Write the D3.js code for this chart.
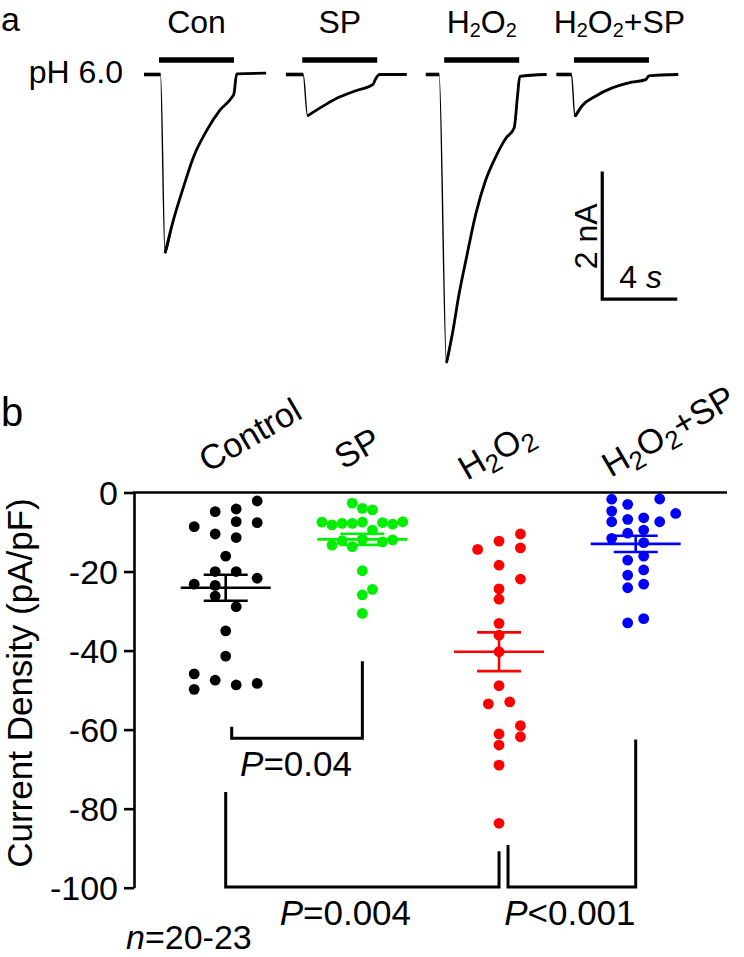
<!DOCTYPE html>
<html><head><meta charset="utf-8">
<script src="https://cdn.jsdelivr.net/npm/d3@7"></script>
<style>
body{margin:0;background:#fff}
svg{display:block}
text{font-family:"Liberation Sans",Arial,Helvetica,sans-serif;fill:#000}
</style></head>
<body><svg id="c" width="744" height="957"></svg>
<script>
// ---------------- DATA ----------------
// Panel a: example current traces (time s, current nA)
const traceLabels = ["Con", "SP", "H2O2", "H2O2+SP"];
const traceStart = [0, 7.57, 15.03, 22.0];        // s, position of each sweep in the montage
const appOnset = [0.8, 0.87, 0.98, 0.93];         // s, start of pH 6.0 application
const appDuration = 4;                             // s
const conTrace = [[0,0],[0.88,0],[1.12,-2.80],[1.56,-2.29],[2.10,-1.77],[2.63,-1.30],[3.34,-0.88],[4.05,-0.56],[4.68,-0.36],[4.80,-0.30],[4.94,0.01],[6.51,0.02]];
const spTrace = [[0,0],[0.92,0],[1.15,-0.65],[1.46,-0.59],[2.18,-0.46],[2.88,-0.35],[3.77,-0.25],[4.66,-0.15],[4.75,-0.09],[4.99,0],[6.44,0]];
const h2o2Trace = [[0,0],[0.71,0],[1.10,-4.52],[1.42,-4.06],[1.78,-3.43],[2.14,-2.91],[2.67,-2.18],[3.20,-1.65],[3.73,-1.29],[4.27,-1.00],[4.71,-0.84],[4.89,-0.34],[5.01,-0.03],[6.44,0]];
const h2o2spTrace = [[0,0],[0.80,0],[0.98,-0.66],[1.37,-0.49],[2.08,-0.34],[2.97,-0.21],[3.86,-0.13],[4.76,-0.08],[4.93,-0.02],[6.49,0]];
const scaleBarCurrent = 2;   // nA
const scaleBarTime = 4;      // s

// Panel b: current density (pA/pF)
const groups = ["Control", "SP", "H2O2", "H2O2+SP"];
const controlValues = [-2.15,-4.85,-4.18,-8.65,-7.38,-7.64,-10.5,-11.4,-16.1,-20.0,-20.0,-23.2,-23.5,-21.7,-26.2,-28.9,-35.0,-41.4,-45.9,-49.8,-47.5,-48.7,-48.3];
const controlSlots  = [3,-1,1,-3,1,3,-1,1,0,-1,1,-3,-1,3,-1,1,0,0,-3,-3,-1,1,3];
const spValues = [-2.7,-4.0,-4.4,-7.5,-8.2,-7.8,-7.8,-7.5,-9.5,-13.3,-12.2,-13.7,-11.85,-19.8,-24.5,-25.9,-30.6,-7.6,-8.0,-7.4,-12.5,-12.0];
const spSlots  = [-1,0,1,-4,-3,-2,-1,0,1,-3,-2,-1,0,0,1,0,0,2,3,4,2,3];
const h2o2Values = [-10.5,-12.3,-14.4,-14.0,-18.4,-21.9,-24.4,-27.0,-33.1,-36.1,-40.3,-48.9,-53.5,-53.0,-59.0,-61.8,-61.1,-63.9,-69.0,-83.7];
const h2o2Slots  = [2,0,-2,2,0,2,0,0,0,0,0,0,-1,1,2,2,0,0,0,0];
const h2o2spValues = [-1.7,-3.0,-1.65,-4.7,-5.3,-7.4,-6.8,-6.4,-7.4,-10.3,-9.5,-11.6,-12.7,-16.1,-17.1,-19.6,-20.9,-23.2,-24.1,-33.0,-31.9];
const h2o2spSlots  = [-3,-1,3,-3,5,-3,-1,1,3,-1,1,-3,1,1,-1,1,-1,1,-1,-1,1];
const groupMeans = [-24.1, -11.85, -40.3, -13.0];
const groupSEM = [3.3, 1.4, 4.9, 2.05];
const yTicks = [0, -20, -40, -60, -80, -100];
const comparisons = [["Control","SP"],["Control","H2O2"],["H2O2","H2O2+SP"]];
const compLeftTop = [-59.3, -75.8, -89.2];
const compRightTop = [-42.7, -90.8, -62.5];
const compBottom = [-62.2, -99.8, -99.8];
const compP = [["=","0.04"],["=","0.004"],["<","0.001"]];
const sampleSize = "20-23";

// ---------------- DRAW ----------------
const svg = d3.select("#c");
const black = "#000";

// panel letters
svg.append("text").attr("x", 1).attr("y", 31).attr("font-size", 34).text("a");
svg.append("text").attr("x", 1).attr("y", 426).attr("font-size", 40).text("b");

// ---- Panel a ----
const tScale = d3.scaleLinear().domain([0, 28]).range([144, 144 + 28 * 18.75]);
const iScale = d3.scaleLinear().domain([0, -5]).range([74.5, 74.5 + 5 * 63.8]);
const traces = [conTrace, spTrace, h2o2Trace, h2o2spTrace];
const line = d3.line().x(d => d[0]).y(d => d[1]).curve(d3.curveMonotoneX);

function writeChem(sel, str, subScale, shift) {
  // renders "2" following H or O as a subscript
  const parts = str.split(/(2)/).filter(p => p !== "");
  let shifted = 0;
  parts.forEach(p => {
    if (p === "2") {
      sel.append("tspan").attr("font-size", (subScale * 100) + "%").attr("dy", shift - shifted).text("2");
      shifted = shift;
    } else {
      const t = sel.append("tspan").text(p);
      if (shifted) t.attr("dy", -shifted);
      shifted = 0;
    }
  });
}

traces.forEach((tr, k) => {
  const pts = tr.map(([t, i]) => [tScale(traceStart[k] + t), iScale(i)]);
  let peak = 0;
  tr.forEach((p, j) => { if (p[1] < tr[peak][1]) peak = j; });
  const g = svg.append("g");
  g.append("path").attr("d", line(pts)).attr("fill", "none").attr("stroke", black).attr("stroke-width", 1.4);
  g.append("path").attr("d", line(pts.slice(0, peak))).attr("fill", "none").attr("stroke", black).attr("stroke-width", 3.6);
  g.append("path").attr("d", line(pts.slice(peak))).attr("fill", "none").attr("stroke", black).attr("stroke-width", 2.8);
  // application bar
  const x0 = tScale(traceStart[k] + appOnset[k]), x1 = tScale(traceStart[k] + appOnset[k] + appDuration);
  g.append("line").attr("x1", x0).attr("x2", x1).attr("y1", 60).attr("y2", 60)
    .attr("stroke", black).attr("stroke-width", 5.5);
  // label
  const lab = g.append("text").attr("x", (x0 + x1) / 2 + (k === 3 ? 8 : 0)).attr("y", 33)
    .attr("text-anchor", "middle").attr("font-size", 32);
  writeChem(lab, traceLabels[k], 0.62, 4);
});

svg.append("text").attr("x", 123).attr("y", 83).attr("text-anchor", "end").attr("font-size", 32).text("pH 6.0");

// scale bar
const sbT = 24.44, sbI = -3.52;
svg.append("path")
  .attr("d", `M${tScale(sbT)},${iScale(sbI + scaleBarCurrent)} V${iScale(sbI)} H${tScale(sbT + scaleBarTime)}`)
  .attr("fill", "none").attr("stroke", black).attr("stroke-width", 3.2);
svg.append("text").attr("transform", `translate(${tScale(sbT) - 5},${(iScale(sbI) + iScale(sbI + scaleBarCurrent)) / 2 + 1}) rotate(-90)`)
  .attr("text-anchor", "middle").attr("font-size", 32).text("2 nA");
const sbl = svg.append("text").attr("x", tScale(sbT) + 17).attr("y", iScale(sbI) - 11).attr("font-size", 32);
sbl.append("tspan").text("4 ");
sbl.append("tspan").attr("font-style", "italic").text("s");

// ---- Panel b ----
const xB = d3.scalePoint().domain(groups).range([225.7, 635.7]);
const yB = d3.scaleLinear().domain([0, -100]).range([492.5, 887.7]);
const colors = ["#000000", "#00ee00", "#ff0000", "#0000ff"];
const allValues = [controlValues, spValues, h2o2Values, h2o2spValues];
const allSlots = [controlSlots, spSlots, h2o2Slots, h2o2spSlots];
const slotStep = [10.5, 10.1, 10.7, 8];

// y axis
const yAxis = d3.axisLeft(yB).tickValues(yTicks).tickSize(10).tickSizeOuter(0).tickPadding(6).tickFormat(d => String(d));
const ya = svg.append("g").attr("transform", "translate(134,0)").call(yAxis);
ya.select(".domain").attr("stroke", black).attr("stroke-width", 2.6);
ya.selectAll(".tick line").attr("stroke", black).attr("stroke-width", 2.6);
ya.selectAll(".tick text").attr("font-size", 34).attr("font-family", "Liberation Sans, Arial, sans-serif").attr("fill", black).attr("dy", "0.36em");
svg.append("line").attr("x1", 133).attr("x2", 727).attr("y1", yB(0)).attr("y2", yB(0)).attr("stroke", black).attr("stroke-width", 2.6);

svg.append("text").attr("transform", `translate(32,683) rotate(-90)`)
  .attr("text-anchor", "middle").attr("font-size", 35).text("Current Density (pA/pF)");

// category labels
const labDx = [-18, -19, -32, -25];
const labY = [473, 470, 481, 478];
groups.forEach((gname, k) => {
  const t = svg.append("text").attr("transform", `translate(${xB(gname) + labDx[k]},${labY[k]}) rotate(-30)`)
    .attr("font-size", 34.5);
  writeChem(t, gname, 0.75, 7);
});

// points
groups.forEach((gname, k) => {
  const off = d3.scaleLinear().domain([0, 1]).range([0, slotStep[k]]);
  svg.append("g").selectAll("circle").data(allValues[k]).join("circle")
    .attr("cx", (d, i) => xB(gname) + off(allSlots[k][i]))
    .attr("cy", d => yB(d)).attr("r", 5.4).attr("fill", colors[k]);
  const xc = xB(gname), m = groupMeans[k], s = groupSEM[k];
  const eg = svg.append("g").attr("stroke", colors[k]).attr("stroke-width", 2.6);
  eg.append("line").attr("x1", xc - 45).attr("x2", xc + 45).attr("y1", yB(m)).attr("y2", yB(m));
  eg.append("line").attr("x1", xc).attr("x2", xc).attr("y1", yB(m + s)).attr("y2", yB(m - s));
  eg.append("line").attr("x1", xc - 22).attr("x2", xc + 22).attr("y1", yB(m + s)).attr("y2", yB(m + s));
  eg.append("line").attr("x1", xc - 22).attr("x2", xc + 22).attr("y1", yB(m - s)).attr("y2", yB(m - s));
});

// significance brackets
const legDx = [6, 0, 9];
const pDx = [-1, -17, -2];
comparisons.forEach(([a, b], k) => {
  const xl = xB(a) + legDx[k], xr = xB(b);
  svg.append("path")
    .attr("d", `M${xl},${yB(compLeftTop[k])} V${yB(compBottom[k])} H${xr} V${yB(compRightTop[k])}`)
    .attr("fill", "none").attr("stroke", black).attr("stroke-width", 3).attr("stroke-linejoin", "miter");
  const t = svg.append("text").attr("x", (xl + xr) / 2 + pDx[k]).attr("y", yB(compBottom[k]) + 38)
    .attr("text-anchor", "middle").attr("font-size", 35);
  t.append("tspan").attr("font-style", "italic").text("P");
  t.append("tspan").text(compP[k][0] + compP[k][1]);
});

const nt = svg.append("text").attr("x", 126).attr("y", 949).attr("font-size", 34);
nt.append("tspan").attr("font-style", "italic").text("n");
nt.append("tspan").text("=" + sampleSize);
</script></body></html>
